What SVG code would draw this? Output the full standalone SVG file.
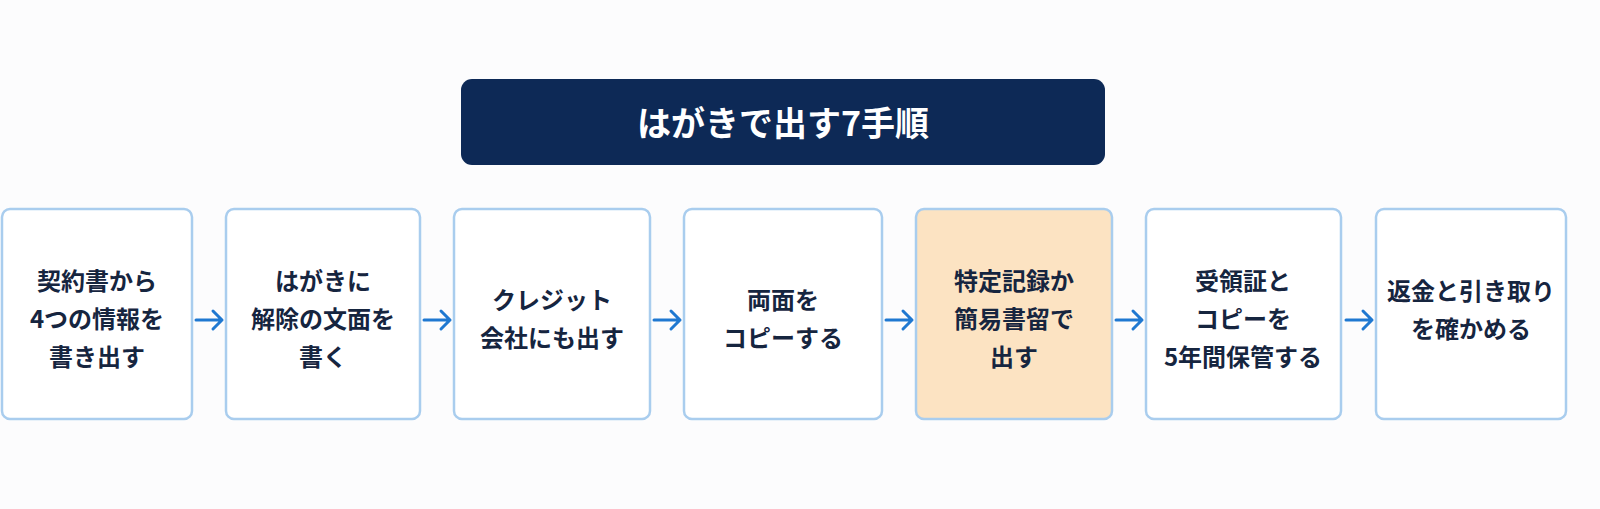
<svg xmlns="http://www.w3.org/2000/svg" width="1600" height="509" viewBox="0 0 1600 509">
<style>
.box{fill:#fff;stroke:#a9cdee;stroke-width:2.5}
.hl{fill:#fce3c2}
.t{font-family:"Noto Sans CJK JP","Noto Sans",sans-serif;font-weight:700;font-size:24px;fill:#16253f;text-anchor:middle}
.a{stroke:#1f78d1;stroke-width:3;fill:none;stroke-linecap:round;stroke-linejoin:round}
</style>
<rect width="1600" height="509" fill="#fcfcfd"/>
<g id="title"><rect x="461" y="79" width="644" height="86" rx="11" fill="#0d2956"/>
<text x="783" y="136" font-family="'Noto Sans CJK JP','Noto Sans',sans-serif" font-weight="700" font-size="34" fill="#fff" text-anchor="middle">はがきで出す7手順</text></g>
<g id="n1"><rect class="box" x="2" y="209" width="190" height="210" rx="8"/>
<text class="t" x="97" y="290">契約書から</text><text class="t" x="97" y="328">4つの情報を</text><text class="t" x="97" y="366">書き出す</text></g>
<g id="n2"><rect class="box" x="226" y="209" width="194" height="210" rx="8"/>
<text class="t" x="323" y="290">はがきに</text><text class="t" x="323" y="328">解除の文面を</text><text class="t" x="323" y="366">書く</text></g>
<g id="n3"><rect class="box" x="454" y="209" width="196" height="210" rx="8"/>
<text class="t" x="552" y="309">クレジット</text><text class="t" x="552" y="347">会社にも出す</text></g>
<g id="n4"><rect class="box" x="684" y="209" width="198" height="210" rx="8"/>
<text class="t" x="783" y="309">両面を</text><text class="t" x="783" y="347">コピーする</text></g>
<g id="n5"><rect class="box hl" x="916" y="209" width="196" height="210" rx="8"/>
<text class="t" x="1014" y="290">特定記録か</text><text class="t" x="1014" y="328">簡易書留で</text><text class="t" x="1014" y="366">出す</text></g>
<g id="n6"><rect class="box" x="1146" y="209" width="195" height="210" rx="8"/>
<text class="t" x="1243" y="290">受領証と</text><text class="t" x="1243" y="328">コピーを</text><text class="t" x="1243" y="366">5年間保管する</text></g>
<g id="n7"><rect class="box" x="1376" y="209" width="190" height="210" rx="8"/>
<text class="t" x="1471" y="300">返金と引き取り</text><text class="t" x="1471" y="338">を確かめる</text></g>
<g id="connectors">
<path class="a" d="M196 320H222M213 311L222 320L213 329"/>
<path class="a" d="M424 320H450M441 311L450 320L441 329"/>
<path class="a" d="M654 320H680M671 311L680 320L671 329"/>
<path class="a" d="M886 320H912M903 311L912 320L903 329"/>
<path class="a" d="M1116 320H1142M1133 311L1142 320L1133 329"/>
<path class="a" d="M1346 320H1372M1363 311L1372 320L1363 329"/>
</g>
</svg>
